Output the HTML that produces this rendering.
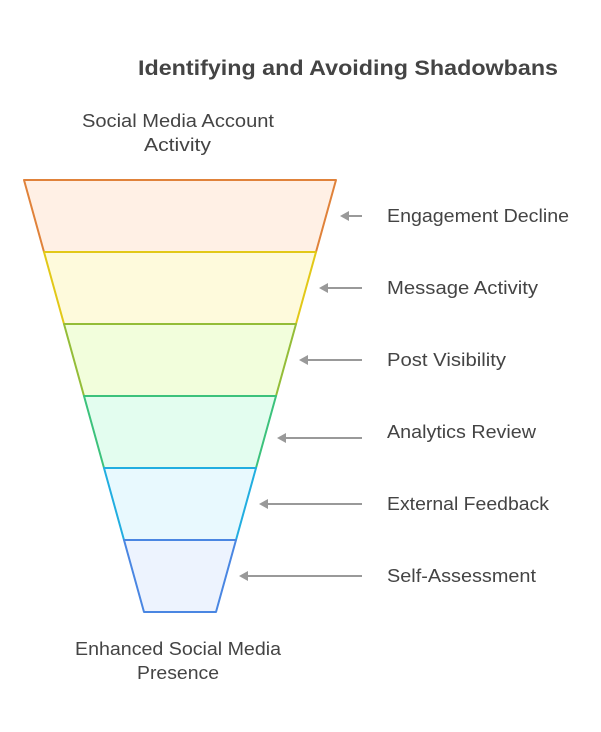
<!DOCTYPE html>
<html><head><meta charset="utf-8"><style>
html,body{margin:0;padding:0;background:#fff;}
svg{display:block;}
text{font-family:"Liberation Sans",Arial,sans-serif;fill:#444;}
</style></head><body>
<svg width="601" height="732" viewBox="0 0 601 732" xmlns="http://www.w3.org/2000/svg">
<text x="138" y="75" font-size="21" font-weight="bold" textLength="420" lengthAdjust="spacingAndGlyphs">Identifying and Avoiding Shadowbans</text>
<text x="82" y="127" font-size="18" textLength="192" lengthAdjust="spacingAndGlyphs">Social Media Account</text>
<text x="144" y="151" font-size="18" textLength="67" lengthAdjust="spacingAndGlyphs">Activity</text>
<text x="75" y="655" font-size="18" textLength="206" lengthAdjust="spacingAndGlyphs">Enhanced Social Media</text>
<text x="137" y="679" font-size="18" textLength="82" lengthAdjust="spacingAndGlyphs">Presence</text>

<polygon points="24,180 336,180 316,252 44,252" fill="#fff0e5" stroke="#e0823a" stroke-width="2" stroke-linejoin="round"/>
<polygon points="44,252 316,252 296,324 64,324" fill="#fefadc" stroke="#e2c818" stroke-width="2" stroke-linejoin="round"/>
<polygon points="64,324 296,324 276,396 84,396" fill="#f2fedc" stroke="#94bd38" stroke-width="2" stroke-linejoin="round"/>
<polygon points="84,396 276,396 256,468 104,468" fill="#e3fdef" stroke="#3cc27c" stroke-width="2" stroke-linejoin="round"/>
<polygon points="104,468 256,468 236,540 124,540" fill="#e8f9fe" stroke="#22aee0" stroke-width="2" stroke-linejoin="round"/>
<polygon points="124,540 236,540 216,612 144,612" fill="#edf3fe" stroke="#4a86e2" stroke-width="2" stroke-linejoin="round"/>

<g stroke="#999" stroke-width="2" fill="#999">
<line x1="346" y1="216" x2="362" y2="216"/><polygon points="340,216 349,211 349,221" stroke="none"/>
<line x1="325" y1="288" x2="362" y2="288"/><polygon points="319,288 328,283 328,293" stroke="none"/>
<line x1="305" y1="360" x2="362" y2="360"/><polygon points="299,360 308,355 308,365" stroke="none"/>
<line x1="283" y1="438" x2="362" y2="438"/><polygon points="277,438 286,433 286,443" stroke="none"/>
<line x1="265" y1="504" x2="362" y2="504"/><polygon points="259,504 268,499 268,509" stroke="none"/>
<line x1="245" y1="576" x2="362" y2="576"/><polygon points="239,576 248,571 248,581" stroke="none"/>
</g>
<text x="387" y="222" font-size="18" textLength="182" lengthAdjust="spacingAndGlyphs">Engagement Decline</text>
<text x="387" y="294" font-size="18" textLength="151" lengthAdjust="spacingAndGlyphs">Message Activity</text>
<text x="387" y="366" font-size="18" textLength="119" lengthAdjust="spacingAndGlyphs">Post Visibility</text>
<text x="387" y="438" font-size="18" textLength="149" lengthAdjust="spacingAndGlyphs">Analytics Review</text>
<text x="387" y="510" font-size="18" textLength="162" lengthAdjust="spacingAndGlyphs">External Feedback</text>
<text x="387" y="582" font-size="18" textLength="149" lengthAdjust="spacingAndGlyphs">Self-Assessment</text>
</svg>
</body></html>
